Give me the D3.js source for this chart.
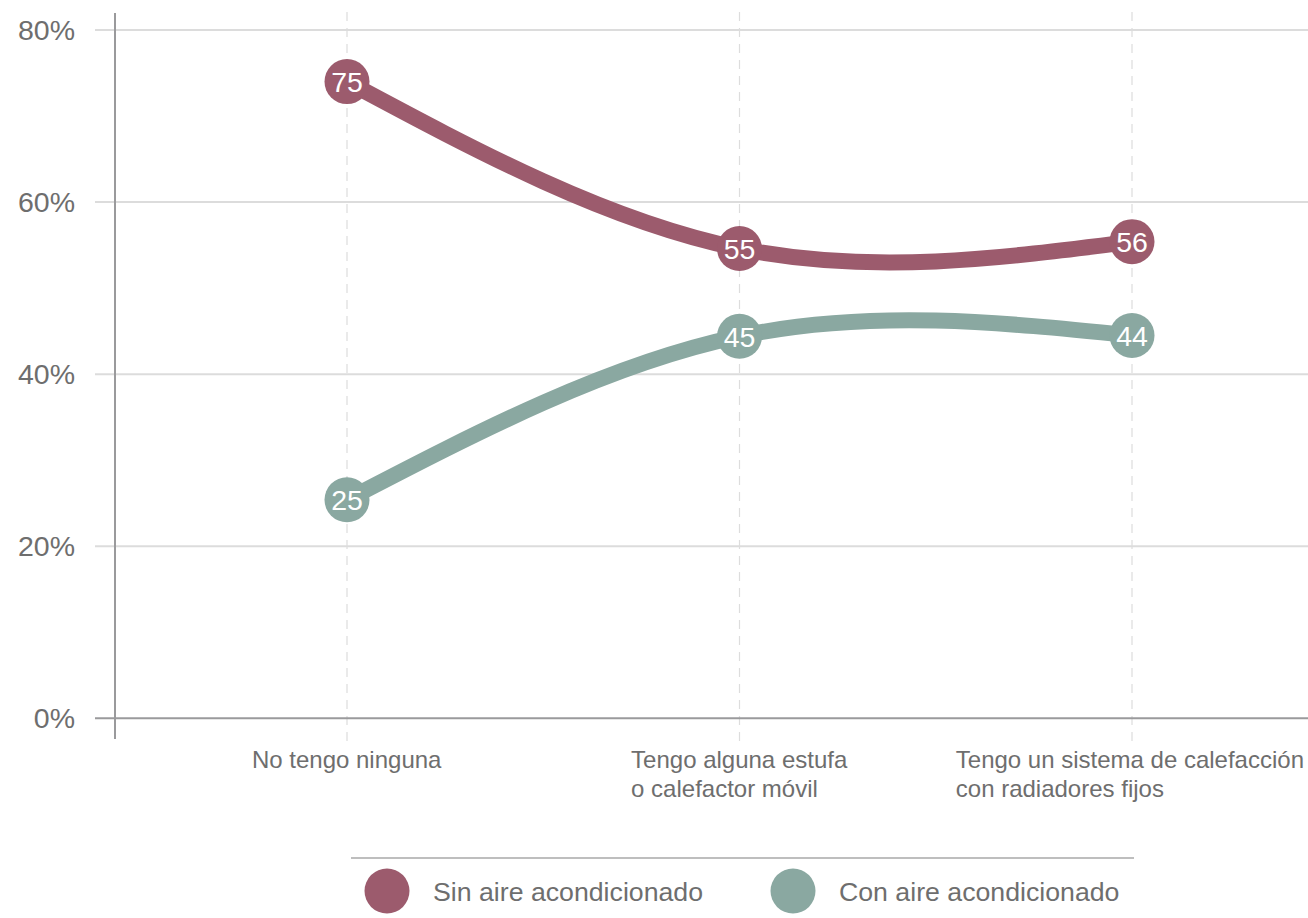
<!DOCTYPE html>
<html>
<head>
<meta charset="utf-8">
<script src="https://cdn.jsdelivr.net/npm/d3@7"></script>
<style>
  html, body { margin: 0; padding: 0; background: #fff; }
  svg { display: block; font-family: "Liberation Sans", Arial, Helvetica, sans-serif; }
</style>
</head>
<body>
<svg id="chart" width="1308" height="918"></svg>
<script>
// ---- data ----
const categories = [
  ["No tengo ninguna"],
  ["Tengo alguna estufa", "o calefactor móvil"],
  ["Tengo un sistema de calefacción", "con radiadores fijos"]
];
const seriesNames = ["Sin aire acondicionado", "Con aire acondicionado"];
const sinValues = [74.0, 54.6, 55.4];
const conValues = [25.4, 44.4, 44.5];
const sinLabels = ["75", "55", "56"];
const conLabels = ["25", "45", "44"];
const yTicks = [0, 20, 40, 60, 80];
const yTickLabels = ["0%", "20%", "40%", "60%", "80%"];

// ---- layout ----
const colors = ["#9c5b6d", "#8aa8a1"];
const svg = d3.select("#chart");
const catKeys = categories.map(c => c.join(" "));

const x = d3.scalePoint().domain(catKeys).range([347, 1132]);
const y = d3.scaleLinear().domain([0, 80]).range([718.3, 30]);

// gridlines
svg.append("g").selectAll("line").data(yTicks.filter(d => d !== 0)).join("line")
  .attr("x1", 95).attr("x2", 1308)
  .attr("y1", d => y(d)).attr("y2", d => y(d))
  .attr("stroke", "#dcdcdc").attr("stroke-width", 2);

// vertical dashed lines at categories
svg.append("g").selectAll("line").data(catKeys).join("line")
  .attr("x1", d => x(d)).attr("x2", d => x(d))
  .attr("y1", 12).attr("y2", 742)
  .attr("stroke", "#dddddd").attr("stroke-width", 1.2)
  .attr("stroke-dasharray", "9,7");

// y tick labels
svg.append("g").selectAll("text").data(yTicks).join("text")
  .attr("x", 75).attr("y", d => y(d))
  .attr("dy", "0.35em")
  .attr("text-anchor", "end")
  .attr("font-size", 28.5)
  .attr("fill", "#6e6e6e")
  .text((d, i) => yTickLabels[i]);

// baseline
svg.append("line")
  .attr("x1", 95).attr("x2", 1308)
  .attr("y1", y(0)).attr("y2", y(0))
  .attr("stroke", "#9a9a9c").attr("stroke-width", 2);

// left axis line
svg.append("line")
  .attr("x1", 115).attr("x2", 115)
  .attr("y1", 13).attr("y2", 739)
  .attr("stroke", "#9a9a9c").attr("stroke-width", 2);

// category labels (block centered on tick, lines left-aligned, kept inside the frame)
const catG = svg.append("g");
categories.forEach((lines, i) => {
  const g = catG.append("g");
  const t = g.append("text")
    .attr("font-size", 24)
    .attr("fill", "#6e6e6e");
  lines.forEach((ln, j) => {
    t.append("tspan").attr("x", 0).attr("y", 768 + j * 29).text(ln);
  });
  const w = t.node().getBBox().width;
  const left = Math.min(x(catKeys[i]) - w / 2, 1304 - w);
  g.attr("transform", `translate(${left},0)`);
});

// lines
const series = [sinValues, conValues];
const labels = [sinLabels, conLabels];
const line = d3.line()
  .x((d, i) => x(catKeys[i]))
  .y(d => y(d))
  .curve(d3.curveNatural);

series.forEach((vals, s) => {
  svg.append("path")
    .datum(vals)
    .attr("d", line)
    .attr("fill", "none")
    .attr("stroke", colors[s])
    .attr("stroke-width", 16)
    .attr("stroke-linecap", "round");
});

series.forEach((vals, s) => {
  const g = svg.append("g");
  g.selectAll("circle").data(vals).join("circle")
    .attr("cx", (d, i) => x(catKeys[i]))
    .attr("cy", d => y(d))
    .attr("r", 22.5)
    .attr("fill", colors[s]);
  g.selectAll("text").data(vals).join("text")
    .attr("x", (d, i) => x(catKeys[i]))
    .attr("y", d => y(d))
    .attr("dy", "0.36em")
    .attr("text-anchor", "middle")
    .attr("font-size", 28.5)
    .attr("fill", "#ffffff")
    .text((d, i) => labels[s][i]);
});

// legend
svg.append("line")
  .attr("x1", 351).attr("x2", 1134)
  .attr("y1", 858).attr("y2", 858)
  .attr("stroke", "#a8a8a8").attr("stroke-width", 1.5);

const legendX = [387, 793];
seriesNames.forEach((name, s) => {
  svg.append("circle")
    .attr("cx", legendX[s]).attr("cy", 891)
    .attr("r", 22.5)
    .attr("fill", colors[s]);
  svg.append("text")
    .attr("x", legendX[s] + 46).attr("y", 891)
    .attr("dy", "0.36em")
    .attr("font-size", 26.7)
    .attr("fill", "#6e6e6e")
    .text(name);
});
</script>
</body>
</html>
